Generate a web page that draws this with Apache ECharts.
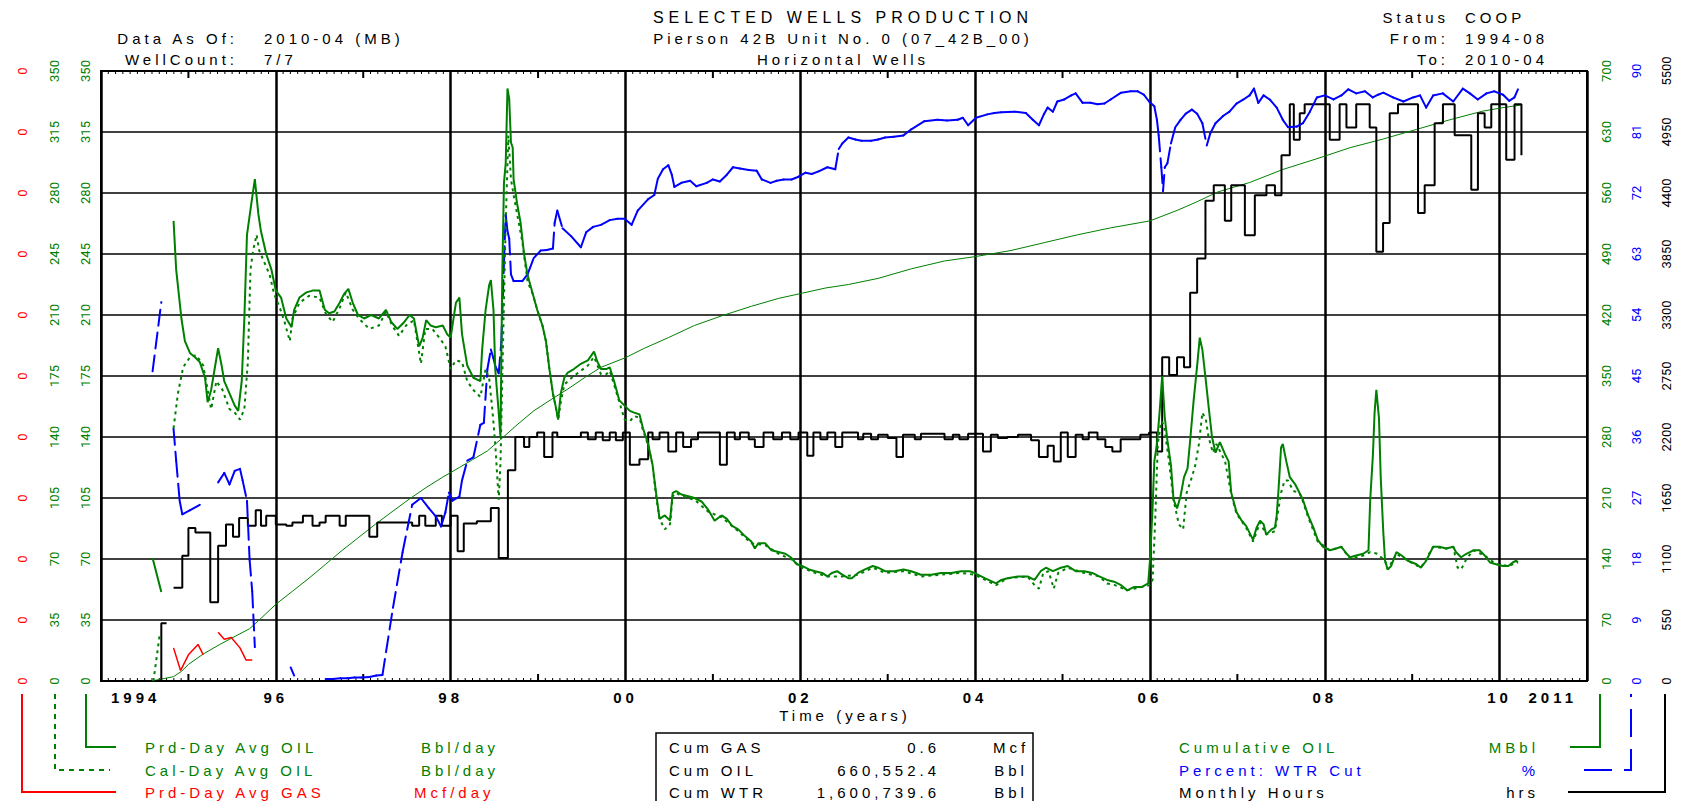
<!DOCTYPE html>
<html>
<head>
<meta charset="utf-8">
<title>Selected Wells Production</title>
<script src="https://cdn.jsdelivr.net/npm/echarts@6/dist/echarts.min.js"></script>
<style>
html, body { margin: 0; padding: 0; background: #fff; }
#chart { width: 1684px; height: 801px; }
/* the source plot uses a wide, loosely spaced bitmap font */
#chart text[style*="Liberation"] { letter-spacing: 4px; }
#chart text[style*="16px"][style*="Liberation"] { letter-spacing: 5px; }
</style>
</head>
<body>
<div id="chart"></div>
<script>
var GREEN = '#008000', BLUE = '#0000ff', RED = '#ff0000', BLACK = '#000000';
var FONT = 'Liberation Sans';

// [year, value] pairs, null = no data
var prdOil = [[1994.59,70.6],[1994.69,51],[1994.75,null],
  [1994.83,264],[1994.86,236],[1994.92,208],[1994.96,195],[1995.02,188],[1995.07,186],[1995.13,183],[1995.19,174],[1995.22,160],[1995.26,167],[1995.3,179],[1995.34,191],[1995.38,181],[1995.41,172],[1995.47,165],[1995.53,158],[1995.57,155],[1995.61,172],[1995.64,208],[1995.67,256],[1995.72,274],[1995.76,288],[1995.8,268],[1995.83,258],[1995.89,245],[1995.95,236],
  [1996.0,224],[1996.06,220],[1996.12,208],[1996.18,203],[1996.21,213],[1996.27,220],[1996.35,223],[1996.42,224],[1996.5,224],[1996.56,213],[1996.61,211],[1996.67,212],[1996.73,217],[1996.78,222],[1996.83,225],[1996.88,217],[1996.94,210],
  [1997.01,208],[1997.09,210],[1997.18,208],[1997.26,213],[1997.32,206],[1997.39,202],[1997.47,206],[1997.53,210],[1997.58,208],[1997.64,192],[1997.68,197],[1997.72,207],[1997.77,204],[1997.83,203],[1997.91,204],[1997.96,199],
  [1998.0,197],[1998.06,217],[1998.1,220],[1998.13,199],[1998.19,181],[1998.26,174],[1998.34,172],[1998.36,190],[1998.4,213],[1998.44,227],[1998.46,230],[1998.49,213],[1998.51,179],[1998.55,154],[1998.57,140],[1998.59,231],[1998.61,286],[1998.63,297],[1998.65,340],[1998.67,334],[1998.69,309],[1998.71,306],[1998.72,288],[1998.76,274],[1998.8,263],[1998.84,245],[1998.88,233],[1998.94,222],[1998.99,213],
  [1999.05,204],[1999.09,195],[1999.13,179],[1999.17,165],[1999.2,158],[1999.23,150],[1999.26,165],[1999.3,174],[1999.34,177],[1999.41,179],[1999.49,182],[1999.57,184],[1999.64,189],[1999.68,183],[1999.72,179],[1999.78,179],[1999.82,180],[1999.87,172],[1999.93,161],[1999.99,158],
  [2000.05,155],[2000.1,154],[2000.16,153],[2000.2,145],[2000.26,136],[2000.31,124],[2000.35,108],[2000.39,93],[2000.45,95],[2000.51,92],[2000.54,108],[2000.58,109],[2000.64,107],[2000.72,106],[2000.79,105],[2000.87,103],[2000.95,98],
  [2001.02,92],[2001.1,95],[2001.16,93],[2001.22,89],[2001.29,87],[2001.37,83],[2001.44,80],[2001.48,76],[2001.52,79],[2001.6,79],[2001.67,75],[2001.75,74],[2001.83,73],[2001.89,71],[2001.96,67],
  [2002.02,66],[2002.1,64],[2002.17,63],[2002.25,62],[2002.31,60],[2002.36,62],[2002.42,63],[2002.48,61],[2002.55,59],[2002.59,59],[2002.66,62],[2002.74,64],[2002.83,66],[2002.89,65],[2002.97,63],
  [2003.08,63],[2003.18,64],[2003.27,63],[2003.38,61],[2003.5,61],[2003.61,62],[2003.73,62],[2003.84,63],[2003.94,63],[2003.99,62],
  [2004.11,59],[2004.24,56],[2004.3,58],[2004.37,59],[2004.49,60],[2004.6,60],[2004.68,58],[2004.75,63],[2004.81,65],[2004.89,63],[2004.98,65],
  [2005.06,66],[2005.15,63],[2005.25,63],[2005.34,62],[2005.42,60],[2005.51,58],[2005.59,57],[2005.67,55],[2005.74,52],[2005.82,54],[2005.91,54],[2005.98,56],
  [2006.0,69],[2006.03,99],[2006.05,126],[2006.08,136],[2006.11,154],[2006.14,175],[2006.17,151],[2006.2,138],[2006.24,124],[2006.27,104],[2006.31,99],[2006.35,106],[2006.39,117],[2006.43,122],[2006.46,138],[2006.5,161],[2006.54,181],[2006.57,197],[2006.6,190],[2006.64,172],[2006.67,158],[2006.71,140],[2006.75,131],[2006.8,137],[2006.86,130],[2006.9,126],[2006.93,108],[2006.99,97],
  [2007.05,92],[2007.1,89],[2007.14,85],[2007.18,81],[2007.22,88],[2007.26,92],[2007.3,90],[2007.33,84],[2007.39,87],[2007.43,88],[2007.45,95],[2007.47,109],[2007.5,134],[2007.52,136],[2007.56,126],[2007.6,117],[2007.66,113],[2007.71,108],[2007.75,104],[2007.81,95],[2007.87,88],[2007.92,81],[2007.98,77],
  [2008.06,75],[2008.13,76],[2008.19,77],[2008.25,73],[2008.29,71],[2008.36,72],[2008.44,73],[2008.5,75],[2008.52,104],[2008.55,129],[2008.57,154],[2008.59,167],[2008.62,151],[2008.64,117],[2008.67,85],[2008.69,69],[2008.72,64],[2008.76,66],[2008.82,74],[2008.88,72],[2008.95,69],
  [2009.05,67],[2009.1,65],[2009.16,69],[2009.24,77],[2009.31,77],[2009.39,76],[2009.47,77],[2009.5,74],[2009.56,71],[2009.62,73],[2009.7,75],[2009.77,75],[2009.83,72],[2009.89,68],[2009.96,67],
  [2010.04,66],[2010.1,66],[2010.15,68],[2010.19,69],[2010.21,68]];

var calOil = [[1994.6,0],[1994.67,26],[1994.75,null],
  [1994.83,145],[1994.88,165],[1994.94,180],[1995.02,186],[1995.09,187],[1995.17,181],[1995.22,167],[1995.26,156],[1995.32,172],[1995.39,167],[1995.47,156],[1995.53,154],[1995.59,150],[1995.64,156],[1995.68,183],[1995.71,236],[1995.74,247],[1995.78,256],[1995.81,247],[1995.87,240],[1995.93,233],[1995.98,222],
  [1996.04,215],[1996.1,206],[1996.16,195],[1996.19,208],[1996.27,217],[1996.38,221],[1996.5,220],[1996.57,211],[1996.65,206],[1996.73,214],[1996.8,223],[1996.88,213],[1996.95,208],
  [1997.07,202],[1997.18,204],[1997.26,212],[1997.33,204],[1997.41,198],[1997.49,204],[1997.58,207],[1997.66,182],[1997.71,202],[1997.79,202],[1997.87,197],[1997.94,192],
  [1998.0,179],[1998.06,184],[1998.13,183],[1998.19,172],[1998.26,167],[1998.34,163],[1998.4,179],[1998.44,174],[1998.48,154],[1998.51,136],[1998.55,104],[1998.57,125],[1998.6,195],[1998.63,263],[1998.66,313],[1998.69,288],[1998.72,279],[1998.76,268],[1998.82,252],[1998.88,229],[1998.94,222],[1998.99,213],
  [1999.05,204],[1999.09,195],[1999.13,179],[1999.17,165],[1999.2,158],[1999.23,150],[1999.26,160],[1999.3,170],[1999.34,172],[1999.41,175],[1999.49,178],[1999.57,181],[1999.64,186],[1999.68,181],[1999.72,176],[1999.78,176],[1999.82,178],[1999.87,170],[1999.93,160],[1999.99,150],
  [2000.05,149],[2000.1,152],[2000.16,151],[2000.2,144],[2000.26,135],[2000.31,124],[2000.35,106],[2000.39,93],[2000.45,87],[2000.51,90],[2000.54,106],[2000.58,108],[2000.64,106],[2000.79,104],[2000.95,97],
  [2001.1,94],[2001.29,86],[2001.44,79],[2001.6,78],[2001.75,73],[2001.89,70],[2002.02,65],[2002.17,62],[2002.31,60],[2002.48,60],[2002.66,61],[2002.83,65],[2002.97,62],
  [2003.18,63],[2003.38,60],[2003.61,61],[2003.84,62],[2003.99,61],[2004.24,55],[2004.37,59],[2004.6,60],[2004.68,55],[2004.73,53],[2004.78,62],[2004.84,63],[2004.9,53],[2004.95,62],
  [2005.06,65],[2005.25,62],[2005.42,60],[2005.51,56],[2005.6,55],[2005.74,52],[2005.91,54],
  [2006.0,55],[2006.03,58],[2006.06,92],[2006.09,136],[2006.13,149],[2006.16,147],[2006.21,129],[2006.27,104],[2006.33,90],[2006.38,87],[2006.42,108],[2006.48,117],[2006.52,124],[2006.56,136],[2006.6,154],[2006.64,150],[2006.67,140],[2006.72,131],[2006.76,136],[2006.86,126],[2006.93,107],[2006.99,96],
  [2007.1,88],[2007.18,80],[2007.26,91],[2007.33,84],[2007.43,86],[2007.5,108],[2007.54,115],[2007.58,115],[2007.64,109],[2007.71,108],[2007.75,103],[2007.81,94],[2007.92,80],
  [2008.06,75],[2008.19,77],[2008.29,70],[2008.44,72],[2008.52,74],[2008.6,73],[2008.69,69],[2008.72,64],[2008.82,73],[2008.95,69],
  [2009.1,65],[2009.24,77],[2009.39,76],[2009.47,77],[2009.52,65],[2009.56,64],[2009.62,70],[2009.7,75],[2009.83,72],[2009.96,67],[2010.1,66],[2010.21,68]];

var gasRate = [[1994.83,0.019],[1994.91,0.006],[1994.96,0.011],[1995.0,0.015],[1995.11,0.021],[1995.17,0.015],[1995.25,null],
  [1995.34,0.028],[1995.41,0.024],[1995.49,0.025],[1995.59,0.019],[1995.66,0.012],[1995.73,0.012]];

var cumOil = [[1994.58,0],[1994.83,5],[1994.92,11],[1995.0,19],[1995.17,31],[1995.36,42],[1995.51,50],[1995.7,60],[1995.81,70],
  [1996.0,88],[1996.19,103],[1996.38,118],[1996.57,134],[1996.76,150],[1996.95,165],[1997.14,180],[1997.34,195],[1997.53,209],[1997.72,222],[1997.91,234],
  [1998.1,245],[1998.25,254],[1998.42,264],[1998.57,277],[1998.76,294],[1998.95,310],[1999.15,323],[1999.34,335],[1999.53,348],[1999.72,360],
  [2000.0,371],[2000.22,382],[2000.49,394],[2000.79,408],[2001.1,419],[2001.44,430],[2001.75,439],[2002.02,445],[2002.29,451],[2002.55,455],[2002.89,462],
  [2003.27,473],[2003.65,482],[2004.0,487],[2004.41,494],[2004.79,503],[2005.17,512],[2005.55,520],[2006.0,528],[2006.31,540],[2006.54,550],[2006.77,561],
  [2007.14,572],[2007.52,587],[2007.9,599],[2008.29,612],[2008.67,622],[2009.05,633],[2009.43,644],[2009.81,654],[2010.04,658],[2010.25,661]];

var wtrCut = [[1994.59,45.7],[1994.69,55.9],[1994.75,null],
  [1994.83,37.2],[1994.86,32.5],[1994.9,26.6],[1994.93,24.6],[1995.02,25.2],[1995.13,26],[1995.2,null],
  [1995.34,29.3],[1995.41,30.7],[1995.47,29],[1995.53,31],[1995.59,31.3],[1995.62,29.6],[1995.67,26.6],[1995.7,17.9],[1995.73,13.2],[1995.76,5],[1995.9,null],
  [1996.17,2],[1996.21,0.8],[1996.4,null],
  [1996.57,0.3],[1996.65,0.3],[1996.74,0.4],[1996.82,0.4],[1996.9,0.5],[1996.98,0.5],[1997.07,0.6],[1997.15,0.8],[1997.22,0.9],[1997.34,10.8],[1997.45,19],[1997.56,26],[1997.66,27],[1997.75,25.5],[1997.83,24.3],[1997.89,22.8],[1997.94,24.9],[1997.98,27.8],
  [1998.02,26.6],[1998.1,27.2],[1998.13,29.6],[1998.19,32.5],[1998.26,33],[1998.34,37.8],[1998.38,38.1],[1998.42,46],[1998.46,48.9],[1998.49,47.6],[1998.51,46.5],[1998.55,45.4],[1998.58,50],[1998.61,61.8],[1998.63,68.8],[1998.65,66.4],[1998.67,65.3],[1998.69,60],[1998.72,59],[1998.82,59],[1998.88,60],[1998.95,62.4],
  [1999.03,63.5],[1999.1,63.6],[1999.17,63.8],[1999.19,67.6],[1999.22,69.4],[1999.28,66.8],[1999.38,65.6],[1999.49,64],[1999.55,66.2],[1999.63,67],[1999.72,67.3],[1999.82,68],[1999.91,68.2],[1999.99,68.2],
  [2000.07,67.3],[2000.14,69.4],[2000.26,71.1],[2000.33,71.7],[2000.37,74.1],[2000.43,75.5],[2000.49,76.1],[2000.53,74.7],[2000.56,72.9],[2000.64,73.5],[2000.74,73.8],[2000.81,73],[2000.93,73.5],
  [2001.0,74],[2001.08,73.7],[2001.16,74.7],[2001.23,75.8],[2001.31,75.6],[2001.41,75.4],[2001.5,75.3],[2001.56,74],[2001.66,73.5],[2001.73,73.8],[2001.81,74],[2001.9,74],[2001.98,74.4],
  [2002.06,75],[2002.13,74.8],[2002.21,75.2],[2002.31,75.8],[2002.4,75.5],[2002.44,78.5],[2002.48,79.3],[2002.55,80.2],[2002.63,79.9],[2002.7,79.7],[2002.81,79.7],[2002.89,79.9],[2002.97,80.2],
  [2003.07,80.3],[2003.18,80.5],[2003.27,81.4],[2003.42,82.6],[2003.57,82.8],[2003.68,82.7],[2003.8,82.8],[2003.86,83.1],[2003.92,82],
  [2004.01,83.1],[2004.14,83.6],[2004.22,83.8],[2004.3,83.9],[2004.45,84],[2004.58,83.8],[2004.66,82.8],[2004.73,82],[2004.79,83.7],[2004.83,84.6],[2004.89,84],[2004.94,85.5],
  [2005.02,85.8],[2005.1,86.4],[2005.15,86.7],[2005.23,85.3],[2005.32,85.3],[2005.4,85.1],[2005.48,85.2],[2005.55,85.8],[2005.67,86.8],[2005.78,87],[2005.86,87],[2005.93,86.5],[2005.99,85.5],
  [2006.05,84.8],[2006.08,82.8],[2006.1,80.5],[2006.13,75.8],[2006.15,72.3],[2006.17,75.8],[2006.2,76.4],[2006.24,79.3],[2006.29,81.7],[2006.35,82.8],[2006.41,83.7],[2006.48,84.3],[2006.54,83.7],[2006.6,82.3],[2006.65,79],[2006.69,80.8],[2006.75,82.3],[2006.84,83.4],[2006.91,84],[2006.99,85.2],
  [2007.07,85.8],[2007.14,86.4],[2007.19,87.4],[2007.24,85.3],[2007.3,86.4],[2007.37,85.8],[2007.45,84.6],[2007.52,82.8],[2007.58,81.7],[2007.68,81.8],[2007.75,82.3],[2007.83,84],[2007.91,86.1],
  [2008.0,86.4],[2008.1,85.8],[2008.19,86.4],[2008.27,87.3],[2008.36,86.7],[2008.46,87],[2008.55,86.1],[2008.61,86.5],[2008.67,86.8],[2008.78,86.1],[2008.9,85.5],
  [2009.01,86.1],[2009.09,86.4],[2009.16,84.6],[2009.24,86.4],[2009.35,86.7],[2009.47,85.5],[2009.58,87.4],[2009.66,86.7],[2009.75,85.8],[2009.85,86.7],[2009.94,87],
  [2010.04,86.5],[2010.11,85.6],[2010.17,86.1],[2010.21,87.3]];

// monthly hours, value holds from the given year to the next point
var hours = [[1994.6,0],[1994.69,520],[1994.75,null],
  [1994.83,840],[1994.93,1130],[1995.0,1380],[1995.08,1340],[1995.25,710],[1995.34,1220],[1995.43,1410],[1995.51,1300],[1995.58,1470],[1995.68,1400],[1995.77,1540],[1995.83,1400],[1995.89,1490],
  [1996.0,1410],[1996.12,1400],[1996.19,1430],[1996.31,1490],[1996.42,1400],[1996.5,1430],[1996.57,1490],[1996.73,1400],[1996.8,1490],
  [1997.07,1300],[1997.16,1430],[1997.56,1400],[1997.64,1490],[1997.71,1400],[1997.83,1490],[1997.9,1400],
  [1998.0,1490],[1998.08,1170],[1998.15,1420],[1998.3,1440],[1998.46,1560],[1998.55,1110],[1998.655,1900],[1998.74,2200],[1998.84,2110],[1998.9,2200],[1998.99,2240],
  [1999.07,2020],[1999.165,2240],[1999.22,2200],[1999.49,2240],[1999.57,2180],[1999.66,2240],[1999.74,2170],[1999.82,2240],[1999.89,2170],[1999.97,2240],
  [2000.05,1950],[2000.16,2000],[2000.26,2240],[2000.31,2180],[2000.39,2240],[2000.49,2070],[2000.58,2240],[2000.66,2110],[2000.75,2180],[2000.83,2240],
  [2001.08,1950],[2001.16,2240],[2001.25,2180],[2001.31,2240],[2001.41,2180],[2001.48,2110],[2001.58,2240],[2001.69,2180],[2001.79,2240],[2001.885,2180],[2001.98,2240],
  [2002.08,2030],[2002.15,2240],[2002.23,2180],[2002.31,2240],[2002.4,2110],[2002.48,2240],[2002.66,2180],[2002.72,2230],[2002.81,2180],[2002.89,2220],
  [2003.0,2190],[2003.1,2020],[2003.175,2220],[2003.31,2180],[2003.38,2230],[2003.65,2180],[2003.745,2220],[2003.82,2180],[2003.92,2230],
  [2004.09,2070],[2004.18,2220],[2004.26,2190],[2004.37,2200],[2004.49,2220],[2004.64,2170],[2004.73,2020],[2004.83,2120],[2004.9,1980],[2004.98,2240],
  [2005.06,2020],[2005.15,2220],[2005.23,2180],[2005.3,2240],[2005.4,2180],[2005.49,2110],[2005.57,2070],[2005.665,2180],[2005.89,2220],[2005.99,2240],
  [2006.08,2070],[2006.14,2920],[2006.22,2760],[2006.31,2920],[2006.39,2830],[2006.46,3500],[2006.54,3810],[2006.635,4330],[2006.73,4470],[2006.857,4150],[2006.93,4470],
  [2007.086,4020],[2007.2,4380],[2007.333,4470],[2007.43,4380],[2007.505,4740],[2007.6,5200],[2007.646,4880],[2007.714,5120],[2007.77,5200],
  [2008.057,4880],[2008.17,5200],[2008.248,4990],[2008.36,5200],[2008.514,4990],[2008.59,3870],[2008.667,4130],[2008.743,5120],[2008.838,5200],
  [2009.067,4220],[2009.143,4470],[2009.257,5030],[2009.352,5200],[2009.486,4920],[2009.676,4430],[2009.752,5120],[2009.829,4990],[2009.905,5200],
  [2010.076,4700],[2010.171,5200],[2010.25,4740]];

var cumRows = [['Cum GAS', '0.6', 'Mcf'], ['Cum OIL', '660,552.4', 'Bbl'], ['Cum WTR', '1,600,739.6', 'Bbl']];
var legendLeft = [['Prd-Day Avg OIL', 'Bbl/day', GREEN], ['Cal-Day Avg OIL', 'Bbl/day', GREEN], ['Prd-Day Avg GAS', 'Mcf/day', RED]];
var legendRight = [['Cumulative OIL', 'MBbl', GREEN], ['Percent: WTR Cut', '%', BLUE], ['Monthly Hours', 'hrs', BLACK]];

// the plotter restarts the dash on every monthly segment, so draw them one by one
var wtrSegments = [];
for (var k = 1; k < wtrCut.length; k++) {
  var a = wtrCut[k - 1], b = wtrCut[k];
  if (a[1] != null && b[1] != null) wtrSegments.push([a[0], a[1], b[0], b[1]]);
}

var chart = echarts.init(document.getElementById('chart'), null, { renderer: 'svg' });

function txt(x, y, s, color, align, size, weight) {
  return {
    type: 'text', x: x, y: y, silent: true,
    style: {
      text: s, fill: color || BLACK, fontFamily: FONT, fontSize: size || 15, fontWeight: weight || 'normal',
      align: align || 'left', textAlign: align || 'left', verticalAlign: 'middle', textVerticalAlign: 'middle'
    }
  };
}
function pline(points, color, dash) {
  return { type: 'polyline', silent: true, shape: { points: points },
    style: { stroke: color, lineWidth: 2, fill: null, lineDash: dash || null } };
}
function yAx(pos, offset, max, step, color, fmt) {
  return {
    type: 'value', position: pos, offset: offset, min: 0, max: max, interval: step,
    axisLine: { show: false, onZero: false }, axisTick: { show: false }, splitLine: { show: false },
    axisLabel: { rotate: 90, margin: pos === 'left' ? 9 : 13, color: color, fontFamily: 'Roboto', fontSize: 13,
                 formatter: fmt || function (v) { return String(v); } }
  };
}

var yearFont = { fontFamily: FONT, fontSize: 15, fontWeight: 'bold', color: BLACK };
var rows = [747, 770, 792];
var graphics = [
  txt(843, 17, 'SELECTED WELLS PRODUCTION', BLACK, 'center', 16),
  txt(843, 38, 'Pierson 42B Unit No. 0 (07_42B_00)', BLACK, 'center'),
  txt(843, 59, 'Horizontal Wells', BLACK, 'center'),
  txt(238, 38, 'Data As Of:', BLACK, 'right'), txt(264, 38, '2010-04 (MB)'),
  txt(238, 59, 'WellCount:', BLACK, 'right'), txt(264, 59, '7/7'),
  txt(1449, 17, 'Status', BLACK, 'right'), txt(1465, 17, 'COOP'),
  txt(1449, 38, 'From:', BLACK, 'right'), txt(1465, 38, '1994-08'),
  txt(1449, 59, 'To:', BLACK, 'right'), txt(1465, 59, '2010-04'),
  txt(845, 715, 'Time (years)', BLACK, 'center'),
  { type: 'rect', silent: true, shape: { x: 656, y: 733, width: 377, height: 90 }, style: { fill: null, stroke: BLACK, lineWidth: 1.5 } },
  pline([[86, 694], [86, rows[0]], [116, rows[0]]], GREEN),
  pline([[55, 694], [55, rows[1]], [110, rows[1]]], GREEN, [5, 5]),
  pline([[22, 694], [22, rows[2]], [116, rows[2]]], RED),
  pline([[1570, rows[0]], [1600, rows[0]], [1600, 694]], GREEN),
  pline([[1584, rows[1]], [1631, rows[1]], [1631, 694]], BLUE, [28, 12]),
  pline([[1568, rows[2]], [1665, rows[2]], [1665, 694]], BLACK)
];
for (var i = 0; i < 3; i++) {
  graphics.push(txt(145, rows[i], legendLeft[i][0], legendLeft[i][2]));
  graphics.push(txt(i === 2 ? 414 : 421, rows[i], legendLeft[i][1], legendLeft[i][2]));
  graphics.push(txt(669, rows[i], cumRows[i][0]));
  graphics.push(txt(940, rows[i], cumRows[i][1], BLACK, 'right'));
  graphics.push(txt(1011, rows[i], cumRows[i][2], BLACK, 'center'));
  graphics.push(txt(1179, rows[i], legendRight[i][0], legendRight[i][2]));
  graphics.push(txt(1539, rows[i], legendRight[i][1], legendRight[i][2], 'right'));
}

var option = {
  backgroundColor: '#FFFFFF',
  animation: false,
  grid: { left: 101, top: 71, width: 1486, height: 610, show: true, borderColor: BLACK, borderWidth: 2,
          backgroundColor: 'transparent', containLabel: false, outerBoundsMode: 'none' },
  xAxis: {
    type: 'value', position: 'bottom', min: 1994, max: 2011, interval: 2,
    axisLine: { show: false, onZero: false }, axisTick: { show: false },
    axisLabel: {
      margin: 9, color: BLACK, fontFamily: FONT, fontSize: 15, fontWeight: 'bold',
      showMinLabel: true, showMaxLabel: true, alignMinLabel: 'left', alignMaxLabel: 'right',
      formatter: function (v) {
        if (v === 1994) return '{s|1994}';
        if (v === 2011) return '{e|2011}';
        return String(v).slice(2);
      },
      rich: {
        s: Object.assign({ padding: [0, 0, 0, 10] }, yearFont),
        e: Object.assign({ padding: [0, 10, 0, 0] }, yearFont)
      }
    },
    splitLine: { show: true, lineStyle: { color: BLACK, width: 2.5 } }
  },
  yAxis: [
    (function () { var a = yAx('left', 0, 350, 35, GREEN); a.splitLine = { show: true, lineStyle: { color: BLACK, width: 1.5 } }; return a; })(),
    yAx('left', 31, 350, 35, GREEN),
    yAx('left', 63, 0.35, 0.035, RED, function (v) { return v.toFixed(0); }),
    yAx('right', 0, 700, 70, GREEN),
    yAx('right', 30, 90, 9, BLUE),
    yAx('right', 60, 5500, 550, BLACK)
  ],
  series: [
    { name: 'Cumulative OIL', type: 'line', yAxisIndex: 3, data: cumOil, symbol: 'none', silent: true,
      lineStyle: { color: GREEN, width: 1 }, z: 2 },
    { name: 'Monthly Hours', type: 'line', yAxisIndex: 5, data: hours, step: 'end', symbol: 'none', silent: true,
      lineStyle: { color: BLACK, width: 2 }, z: 3 },
    { name: 'Percent: WTR Cut', type: 'custom', yAxisIndex: 4, data: wtrSegments, silent: true, z: 4,
      encode: { x: [0, 2], y: [1, 3] },
      renderItem: function (params, api) {
        var p1 = api.coord([api.value(0), api.value(1)]);
        var p2 = api.coord([api.value(2), api.value(3)]);
        return { type: 'line', shape: { x1: p1[0], y1: p1[1], x2: p2[0], y2: p2[1] },
                 style: { stroke: BLUE, lineWidth: 2, lineDash: [16, 7], lineCap: 'round' } };
      } },
    { name: 'Cal-Day Avg OIL', type: 'line', yAxisIndex: 1, data: calOil, symbol: 'none', silent: true,
      lineStyle: { color: GREEN, width: 2, type: [3, 4] }, z: 5 },
    { name: 'Prd-Day Avg OIL', type: 'line', yAxisIndex: 0, data: prdOil, symbol: 'none', silent: true,
      lineStyle: { color: GREEN, width: 2 }, z: 6 },
    { name: 'Prd-Day Avg GAS', type: 'line', yAxisIndex: 2, data: gasRate, symbol: 'none', silent: true,
      lineStyle: { color: RED, width: 1.5 }, z: 7 }
  ],
  graphic: graphics
};

chart.setOption(option);

// month ticks (and longer odd-year ticks) along the top and bottom of the frame,
// placed through the x axis scale
var yTop = chart.convertToPixel({ yAxisIndex: 0 }, 350);
var yBot = chart.convertToPixel({ yAxisIndex: 0 }, 0);
var ticks = [];
for (var m = 1; m < 17 * 12; m++) {
  if (m % 24 === 0) continue;            // grid line already there
  var x = chart.convertToPixel({ xAxisIndex: 0 }, 1994 + m / 12);
  var yearMark = m % 12 === 0;
  var len = yearMark ? 7 : 3;
  var w = yearMark ? 2 : 1;
  ticks.push({ type: 'line', silent: true, shape: { x1: x, y1: yTop, x2: x, y2: yTop + len }, style: { stroke: BLACK, lineWidth: w } });
  ticks.push({ type: 'line', silent: true, shape: { x1: x, y1: yBot, x2: x, y2: yBot - len }, style: { stroke: BLACK, lineWidth: w } });
}
chart.setOption({ graphic: graphics.concat(ticks) });

window.addEventListener('resize', function () {
  chart.resize();
});
</script>
</body>
</html>
